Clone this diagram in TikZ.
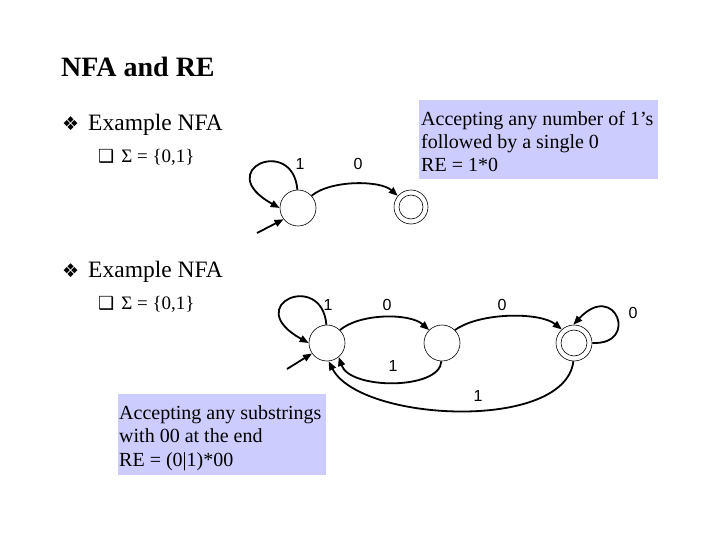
\documentclass[tikz,border=0pt]{standalone}
\usepackage{fontspec}
\setmainfont{Liberation Serif}
\newfontfamily\lsans{Liberation Sans}
\newfontfamily\dvsans{DejaVu Sans}
\usetikzlibrary{arrows.meta}
\definecolor{boxblue}{RGB}{204,204,255}
\begin{document}
\begin{tikzpicture}[x=1pt,y=-1pt,
  statenode/.style={circle,draw,line width=0.6pt,minimum size=36pt,inner sep=0pt},
  edge/.style={line width=1.8pt,-{Triangle[length=9pt,width=7pt]}},
  lbl/.style={font=\lsans\fontsize{16}{18}\selectfont,inner sep=0pt},
  retext/.style={align=left,inner sep=0pt,anchor=base west,font=\fontsize{20}{23.5}\selectfont}]
\path[use as bounding box] (0,0) rectangle (720,540);

% title and bullets
\node[anchor=base west,inner sep=0pt,font=\bfseries\fontsize{28}{32}\selectfont] (title) at (61,77) {NFA and RE};
\node[anchor=base west,inner sep=0pt,font=\fontsize{23.5}{26}\selectfont] (ex1) at (62,131) {{\dvsans\fontsize{19}{20}\selectfont ❖}\hspace{9pt}Example NFA};
\node[anchor=base west,inner sep=0pt,font=\fontsize{19}{22}\selectfont] (sig1) at (98,163) {{\dvsans\fontsize{18}{18}\selectfont ❑}\hspace{7pt}Σ = \{0,1\}};
\node[anchor=base west,inner sep=0pt,font=\fontsize{23.5}{26}\selectfont] (ex2) at (62,277) {{\dvsans\fontsize{19}{20}\selectfont ❖}\hspace{9pt}Example NFA};
\node[anchor=base west,inner sep=0pt,font=\fontsize{19}{22}\selectfont] (sig2) at (98,309) {{\dvsans\fontsize{18}{18}\selectfont ❑}\hspace{7pt}Σ = \{0,1\}};

% boxes
\fill[boxblue] (419,100) rectangle (658,179);
\node[retext] (box1) at (421,172) {Accepting any number of 1’s\\followed by a single 0\\RE = 1*0};
\fill[boxblue] (118,394) rectangle (326,475);
\node[retext] (box2) at (119,466) {Accepting any substrings\\with 00 at the end\\RE = (0|1)*00};

% top NFA
\node[statenode] (a) at (298,208) {};
\node[statenode,minimum size=34pt] (f) at (411,207) {};
\draw[line width=0.6pt] (f.center) circle (12);
\coordinate (s1) at (257,233);
\draw[edge] (s1) -- (a.218);
\draw[edge] (a.92) .. controls (293,135) and (211,170) .. (a.180);
\draw[edge] (a.42) .. controls (330,180) and (380,180) .. (f.140);
\node[lbl] (l1) at (300,164) {1};
\node[lbl] (l0) at (358,164) {0};

% bottom NFA
\node[statenode] (p) at (327,343) {};
\node[statenode] (q) at (442,343) {};
\node[statenode] (r) at (574,343) {};
\draw[line width=0.6pt] (r.center) circle (13);
\coordinate (s2) at (287,369);
\draw[edge] (s2) -- (p.215);
\draw[edge] (p.92) .. controls (322,270) and (240,305) .. (p.180);
\draw[edge] (p.45) .. controls (360,313) and (410,313) .. (q.135);
\draw[edge] (q.45) .. controls (480,312) and (540,312) .. (r.132);
\draw[edge] (r.0) .. controls (640,345) and (615,280) .. (r.92);
\draw[edge] (q.268) .. controls (440,390) and (350,390) .. (p.310);
\draw[edge] (r.268) .. controls (565,432) and (360,422) .. (p.275);
\node[lbl] (m1) at (328,305) {1};
\node[lbl] (m2) at (387,305) {0};
\node[lbl] (m3) at (502,305) {0};
\node[lbl] (m4) at (633,313) {0};
\node[lbl] (m5) at (393,366) {1};
\node[lbl] (m6) at (478,396) {1};
\end{tikzpicture}
\end{document}
